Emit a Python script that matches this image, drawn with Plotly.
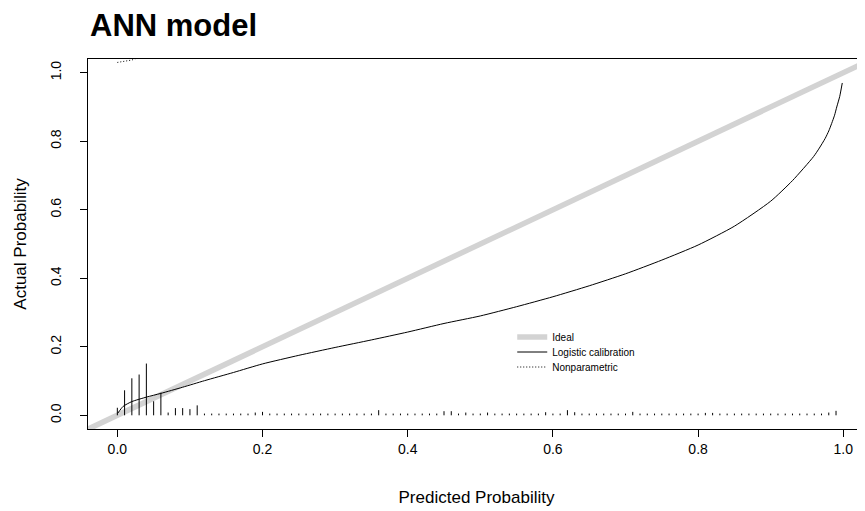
import plotly.graph_objects as go

# ---------------- data ----------------
ideal_x = [-0.1, 1.1]
ideal_y = [-0.1, 1.1]

logit_x = [0.0006, 0.008, 0.020, 0.040, 0.06, 0.09, 0.12, 0.16, 0.2, 0.25, 0.3, 0.35, 0.4, 0.45, 0.5,
           0.55, 0.6, 0.65, 0.7, 0.75, 0.8, 0.85, 0.9, 0.93, 0.959, 0.967, 0.975, 0.98, 0.984,
           0.988, 0.991, 0.995, 0.9986]
logit_y = [0.006, 0.026, 0.040, 0.053, 0.064, 0.082, 0.101, 0.125, 0.150, 0.175, 0.198, 0.220, 0.243, 0.268, 0.290,
           0.317, 0.346, 0.378, 0.413, 0.453, 0.497, 0.552, 0.625, 0.685, 0.755, 0.780, 0.808, 0.830, 0.852,
           0.876, 0.900, 0.930, 0.970]

nonpar_x = [0.0, 0.01, 0.02, 0.03]
nonpar_y = [1.030, 1.033, 1.037, 1.045]

# spike histogram of predicted probabilities (bins of 0.01)
spike_x = [round(i * 0.01, 2) for i in range(100)]
spike_h = [0.005] * 100
big = {0: 0.022, 1: 0.073, 2: 0.108, 3: 0.119, 4: 0.151, 5: 0.041, 6: 0.066, 7: 0.008,
       8: 0.021, 9: 0.021, 10: 0.018, 11: 0.029,
       19: 0.008, 20: 0.010, 36: 0.015, 45: 0.012, 46: 0.012, 48: 0.008, 51: 0.008,
       59: 0.009, 62: 0.015, 63: 0.009, 71: 0.010, 81: 0.007, 82: 0.007, 98: 0.008, 99: 0.013}
for k, v in big.items():
    spike_h[k] = v

x_ticks = [0.0, 0.2, 0.4, 0.6, 0.8, 1.0]
y_ticks = [0.0, 0.2, 0.4, 0.6, 0.8, 1.0]
tick_text = ["0.0", "0.2", "0.4", "0.6", "0.8", "1.0"]

# ---------------- figure ----------------
sx, sy = [], []
for xv, hv in zip(spike_x, spike_h):
    sx += [xv, xv, None]
    sy += [0, hv, None]

font = "Liberation Sans, Arial, sans-serif"
fig = go.Figure()
fig.add_trace(go.Scatter(x=ideal_x, y=ideal_y, mode="lines", name="Ideal", legend="legend",
                         line=dict(color="#d3d3d3", width=5.5)))
fig.add_trace(go.Scatter(x=logit_x, y=logit_y, mode="lines", name="Logistic calibration",
                         legend="legend2",
                         line=dict(color="black", width=1, shape="spline", smoothing=0.6)))
fig.add_trace(go.Scatter(x=nonpar_x, y=nonpar_y, mode="lines", name="Nonparametric",
                         legend="legend3", line=dict(color="black", width=1, dash="1px,2px")))
fig.add_trace(go.Scatter(x=sx, y=sy, mode="lines", showlegend=False,
                         line=dict(color="black", width=1)))

W, H = 857, 503
L, T, PH = 80, 51, 370


def leg(fig_y):
    return dict(x=0.546, y=1 - (fig_y - T) / PH, xanchor="left", yanchor="middle",
                bgcolor="rgba(0,0,0,0)", font=dict(size=10, family=font, color="black"),
                itemwidth=30, borderwidth=0)


fig.update_layout(
    width=W, height=H,
    margin=dict(l=L, r=0, t=T, b=H - T - PH),
    paper_bgcolor="white", plot_bgcolor="white",
    font=dict(family=font, color="black", size=14),
    title=dict(text="<b>ANN model</b>", x=82 / W, xanchor="left", xref="container",
               y=1 - 17 / H, yanchor="middle", yref="container",
               font=dict(size=31, family=font, color="black")),
    showlegend=True,
    legend=leg(329), legend2=leg(344), legend3=leg(359),
    xaxis=dict(range=[-0.0404, 1.0299], tickvals=x_ticks, ticktext=tick_text,
               showgrid=False, zeroline=False, showline=True, linecolor="black", linewidth=1,
               mirror=True, ticks="outside", ticklen=7, tickcolor="black",
               title=dict(text="Predicted Probability", standoff=35)),
    yaxis=dict(range=[-0.04, 1.04], tickvals=y_ticks, ticktext=tick_text, tickangle=-90,
               showgrid=False, zeroline=False, showline=True, linecolor="black", linewidth=1,
               mirror=False, ticks="outside", ticklen=7, tickcolor="black",
               ticklabelstandoff=13,
               title=dict(text="Actual Probability", standoff=17)),
)

fig.write_html("out.html")
